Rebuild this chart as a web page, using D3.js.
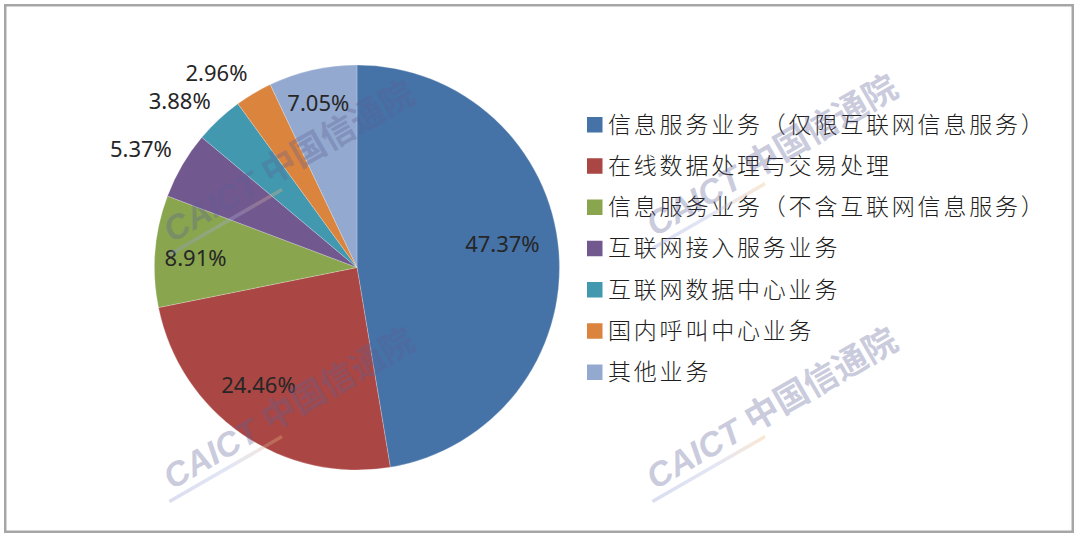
<!DOCTYPE html>
<html>
<head>
<meta charset="utf-8">
<script src="https://cdn.jsdelivr.net/npm/d3@7"></script>
<style>
  html, body { margin: 0; padding: 0; background: #ffffff; }
  svg { display: block; }
</style>
</head>
<body>
<svg id="chart" width="1080" height="541"></svg>
<script>
// ---- data ----
const categories = [
  "信息服务业务（仅限互联网信息服务）",
  "在线数据处理与交易处理",
  "信息服务业务（不含互联网信息服务）",
  "互联网接入服务业务",
  "互联网数据中心业务",
  "国内呼叫中心业务",
  "其他业务"
];
const values = [47.37, 24.46, 8.91, 5.37, 3.88, 2.96, 7.05];
const valueLabels = ["47.37%", "24.46%", "8.91%", "5.37%", "3.88%", "2.96%", "7.05%"];
const watermarkText = ["CAICT", "中国信通院"];

// ---- style / layout ----
const colors = ["#4572A7", "#AA4643", "#89A54E", "#71588F", "#4198AF", "#DB843D", "#93A9CF"];
const W = 1080, H = 541;
const cx = 357, cy = 267.5, R = 202.5;
const insideNudge = [[-12, -10], [-9, -12], [-4, 3], null, null, null, [-4, -10]];

const svg = d3.select("#chart");

// frame
svg.append("rect")
  .attr("x", 5.25).attr("y", 5.25)
  .attr("width", 1067.5).attr("height", 526.5)
  .attr("fill", "#fff")
  .attr("stroke", "#a6a6a6").attr("stroke-width", 2.5);

// pie
const pie = d3.pie().sort(null).value(d => d).startAngle(0).endAngle(2 * Math.PI);
const arcs = pie(values);
const arc = d3.arc().innerRadius(0).outerRadius(R);

const g = svg.append("g").attr("transform", `translate(${cx},${cy})`);
g.selectAll("path.slice").data(arcs).join("path")
  .attr("class", "slice")
  .attr("d", arc)
  .attr("fill", (d, i) => colors[i])
  .attr("stroke", "#ffffff").attr("stroke-width", 0.4).attr("stroke-opacity", 0.6);

// data labels
const fontSize = 22;
const capHalf = fontSize * 0.357;
arcs.forEach((d, i) => {
  const mid = (d.startAngle + d.endAngle) / 2;
  const s = Math.sin(mid), c = Math.cos(mid);
  const t = g.append("text")
    .attr("font-family", "'Noto Sans', 'DejaVu Sans', sans-serif")
    .attr("font-size", fontSize)
    .attr("fill", "#262626")
    .attr("text-anchor", "middle")
    .text(valueLabels[i]);
  let x, y;
  if (values[i] < 6) {
    const r = R + 12;
    const px = r * s, py = -r * c;
    const w = t.node().getComputedTextLength();
    const h = 20;
    x = px + Math.sign(s) * w / 2;
    y = py - Math.sign(c) * h / 2;
  } else {
    const r = R * 0.78;
    x = r * s; y = -r * c;
    const n = insideNudge[i];
    if (n) { x += n[0]; y += n[1]; }
  }
  t.attr("x", x).attr("y", y + capHalf);
});

// legend
const legend = svg.append("g").attr("transform", "translate(587,124.5)");
const step = 41.25;
categories.forEach((cat, i) => {
  const row = legend.append("g").attr("transform", `translate(0,${i * step})`);
  row.append("rect")
    .attr("x", 0).attr("y", -7.5).attr("width", 15.5).attr("height", 15.5)
    .attr("fill", colors[i]);
  row.append("text")
    .attr("x", 21).attr("y", 8)
    .attr("font-family", "'Noto Sans CJK SC', sans-serif")
    .attr("font-weight", 300)
    .attr("font-size", 23)
    .attr("letter-spacing", 2.8)
    .attr("fill", "#1e1e1e")
    .text(cat);
});

// watermarks
const defs = svg.append("defs");
const grad = defs.append("linearGradient").attr("id", "wmline")
  .attr("x1", "0%").attr("x2", "100%");
grad.append("stop").attr("offset", "0%").attr("stop-color", "#8f9ad0");
grad.append("stop").attr("offset", "55%").attr("stop-color", "#a9b2df");
grad.append("stop").attr("offset", "100%").attr("stop-color", "#f2b77a");

const wmPositions = [[172, 490], [172, 243], [655, 490], [655, 237]];
wmPositions.forEach(([x, y]) => {
  const w = svg.append("g")
    .attr("transform", `translate(${x},${y}) rotate(-30)`)
    .attr("opacity", 0.32);
  w.append("text")
    .attr("x", 0).attr("y", 0)
    .attr("font-family", "'Liberation Sans', Arial, sans-serif")
    .attr("font-weight", "bold").attr("font-style", "italic")
    .attr("font-size", 34)
    .attr("fill", "#5d6196")
    .text(watermarkText[0]);
  w.append("text")
    .attr("x", 114).attr("y", -1)
    .attr("font-family", "'Noto Sans CJK SC', sans-serif")
    .attr("font-weight", "bold")
    .attr("font-size", 34)
    .attr("fill", "#5d6196")
    .text(watermarkText[1]);
  w.append("rect")
    .attr("x", -8).attr("y", 7).attr("width", 130).attr("height", 3.5)
    .attr("fill", "url(#wmline)");
});
</script>
</body>
</html>
